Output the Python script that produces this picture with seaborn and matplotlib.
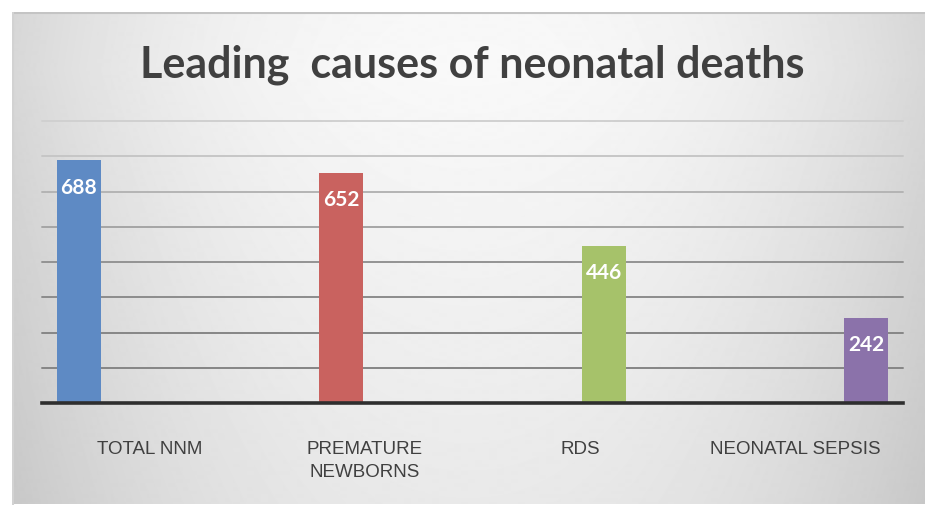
import numpy as np
import pandas as pd
import matplotlib
matplotlib.use("Agg")
import matplotlib.pyplot as plt
import seaborn as sns

# ---- data ----
title = "Leading  causes of neonatal deaths"
categories = ["TOTAL NNM", "PREMATURE\nNEWBORNS", "RDS", "NEONATAL SEPSIS"]
values = [688, 652, 446, 242]
colors = ["#5E8AC4", "#C9625F", "#A6C26A", "#8B72AA"]
grid_values = [100, 200, 300, 400, 500, 600, 700, 800]

df = pd.DataFrame({"category": categories, "series": categories, "value": values})

sns.set_style("white")
plt.rcParams["font.family"] = ["Lato", "DejaVu Sans"]

W, H = 925, 505
fig = plt.figure(figsize=(W / 100, H / 100), dpi=100)
fig.patch.set_facecolor("white")

# background gradient panel
bx0, by0 = 12, 12
bg = fig.add_axes([bx0 / W, 0, (W - bx0) / W, (H - by0) / H])
gw, gh = W - bx0, H - by0
xs = np.linspace(-1, 1, gw)
ys = np.linspace(0, 1, gh)
XX, YY = np.meshgrid(xs, ys)
grad = (0.975 - 0.13 * np.abs(XX) ** 2.2 - 0.07 * np.clip(YY - 0.12, 0, None)
        - 0.04 * np.clip(0.12 - YY, 0, None))
bg.imshow(grad, cmap="gray", vmin=0, vmax=1, aspect="auto", interpolation="bilinear")
bg.set_axis_off()
bg.plot([0, gw], [0.5, 0.5], color="#c4c4c4", lw=1.5)
bg.plot([0.5, 0.5], [0, gh], color="#d2d2d2", lw=1.5)
bg.set_xlim(0, gw)
bg.set_ylim(gh, 0)

# main axes
left, right, bottom, top = 42, 903, 403, 121
ax = fig.add_axes([left / W, 1 - bottom / H, (right - left) / W, (bottom - top) / H])
ax.set_facecolor("none")
sns.barplot(data=df, x="category", y="value", hue="series", order=categories,
            hue_order=categories, palette=colors, width=0.875, gap=0.06,
            dodge=True, legend=False, saturation=1, linewidth=0, ax=ax)

ax.set_ylim(0, 800)
ax.set_yticks(grid_values)
ax.set_yticklabels([])
ax.set_axisbelow(True)
ax.yaxis.grid(True, lw=1.4)
grid_cols = ["#858585", "#868686", "#8c8c8c", "#939393", "#a5a5a5", "#b4b4b4", "#c6c6c6", "#d0d0d0"]
for gl, c in zip(ax.get_ygridlines(), grid_cols):
    gl.set_color(c)
    gl.set_clip_on(False)

for s in ["left", "right", "top"]:
    ax.spines[s].set_visible(False)
ax.spines["bottom"].set_color("#2e2e2e")
ax.spines["bottom"].set_linewidth(2.6)
ax.tick_params(left=False, bottom=False, axis="x", pad=24)
ax.set_xlabel("")
ax.set_ylabel("")
for lbl in ax.get_xticklabels():
    lbl.set_fontfamily(["Liberation Sans", "DejaVu Sans"])
    lbl.set_fontsize(13.5)
    lbl.set_color("#404040")
    lbl.set_linespacing(1.45)
    lbl.set_verticalalignment("top")

# value labels
for p in ax.patches:
    h = p.get_height()
    if h and h > 0:
        ax.annotate(f"{int(round(h))}", (p.get_x() + p.get_width() / 2, h),
                    xytext=(0, -19.5), textcoords="offset points",
                    ha="center", va="center", color="white",
                    fontsize=15, fontweight="bold")

fig.text(472 / W, 1 - 65 / H, title, ha="center", va="center",
         fontsize=31, fontweight="bold", color="#404040")

fig.savefig("out.png", dpi=100)
